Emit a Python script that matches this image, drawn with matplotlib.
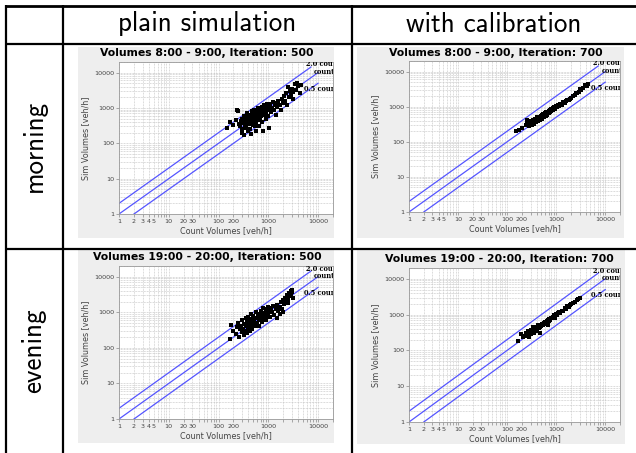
import matplotlib
matplotlib.use('Agg')
import matplotlib.pyplot as plt
from matplotlib.lines import Line2D
from matplotlib.patches import Rectangle
from matplotlib.ticker import FixedLocator, NullFormatter

# ---------------- data ----------------
col_headers = ["plain simulation", "with calibration"]
row_headers = ["morning", "evening"]
titles = ["Volumes 8:00 - 9:00, Iteration: 500",
          "Volumes 8:00 - 9:00, Iteration: 700",
          "Volumes 19:00 - 20:00, Iteration: 500",
          "Volumes 19:00 - 20:00, Iteration: 700"]
x_label = "Count Volumes [veh/h]"
y_label = "Sim Volumes [veh/h]"
x_tick_vals = [1, 2, 3, 4, 5, 10, 20, 30, 100, 200, 1000, 10000]
x_tick_text = ["1", "2", "3", "4", "5", "10", "20", "30", "100", "200", "1000", "10000"]
y_tick_vals = [1, 10, 100, 1000, 10000]
y_tick_text = ["1", "10", "100", "1000", "10000"]
ref_factors = [2.0, 1.0, 0.5]
ref_labels = ["2.0 count", "count", "0.5 count"]
ref_x_start = [1, 1, 2]
ref_x_end = [7200, 10000, 10000]

morning_plain_count = [150,170,200,220,240,250,260,270,280,290,300,300,310,320,330,340,350,360,370,380,
                       390,400,410,420,430,440,450,460,470,480,490,500,510,520,530,540,550,560,570,580,
                       600,610,620,640,650,660,680,700,720,740,750,760,780,800,820,840,860,880,900,920,
                       950,980,1000,1000,1050,1050,1100,1150,1200,1250,1300,1350,1400,1450,1500,1600,1700,1800,1900,2000,
                       2100,2200,2300,2400,2500,2600,2700,2800,3000,3100,3200,3400,3600,3800,4000,4300,4500]
morning_plain_sim = [270,390,330,450,900,800,350,300,420,250,200,500,380,170,600,320,450,280,700,400,
                     230,550,350,480,260,650,400,180,800,500,320,600,420,900,300,700,500,220,380,650,
                     800,450,1000,550,300,700,480,900,600,1100,400,750,220,950,650,1200,800,500,1000,700,
                     1300,850,600,1100,280,900,1300,750,1000,1500,850,1200,1400,650,1100,1600,1200,900,1800,1400,
                     2200,1600,2600,1200,4000,2000,3000,2400,3500,1800,2800,4800,3200,5000,4200,2600,4500]

morning_calib_count = [150,175,200,240,250,260,280,290,300,310,320,330,340,350,360,370,380,390,400,410,
                       420,430,440,450,460,470,480,490,500,510,520,530,540,550,560,580,600,610,620,640,
                       650,660,680,700,720,740,760,780,800,820,850,880,900,930,960,1000,1000,1050,1100,1150,
                       1200,1250,1300,1400,1500,1600,1700,1800,1900,2000,2200,2400,2500,2700,2900,3000,3200,3500,3800,4200,4500]
morning_calib_sim = [200,220,240,300,430,330,280,360,320,400,300,350,420,380,330,460,400,360,440,500,
                     390,460,520,420,480,430,550,470,520,460,580,500,560,620,520,600,650,560,700,620,
                     580,700,650,760,680,800,720,850,760,820,900,780,950,880,1000,950,1050,1000,1150,1050,
                     1200,1150,1100,1350,1300,1450,1600,1500,1700,1800,2000,2200,2400,2500,2700,3200,3000,3400,4200,4000,4300]

evening_plain_count = [170,180,200,220,240,250,260,270,280,290,300,310,320,330,340,350,360,370,380,390,
                       400,410,420,430,440,450,460,470,480,490,500,520,540,560,580,600,620,640,660,680,
                       700,720,740,760,780,800,820,850,880,900,920,950,980,1000,1050,1100,1150,1200,1250,1300,
                       1400,1500,1600,1700,1800,1900,2000,2100,2200,2300,2400,2500,2600,2700,2800,2900,3000,3100,2000,1500,
                       2500,3000,1700]
evening_plain_sim = [180,450,300,250,380,500,200,330,420,280,600,350,230,480,300,700,400,260,550,350,
                     750,450,300,600,380,900,500,330,650,420,800,550,400,700,1000,500,800,600,420,900,
                     700,1100,550,850,1300,650,950,750,1200,600,1000,800,1400,900,1100,750,1300,1000,1500,850,
                     1200,1600,1100,1400,2000,1200,2200,1700,2600,2000,3000,2400,3500,2800,4000,3200,3800,2500,1000,700,
                     1800,4200,900]

evening_calib_count = [170,190,210,230,240,260,270,280,290,300,310,320,330,340,350,360,370,380,390,400,
                       410,420,430,440,450,460,470,480,500,520,540,560,580,600,620,640,660,680,700,730,
                       760,790,820,850,880,920,960,1000,1050,1100,1150,1200,1300,1400,1500,1600,1700,1800,1900,2000,
                       2200,2400,2600,2800,3000,950,680]
evening_calib_sim = [180,290,230,260,300,280,350,240,320,380,290,340,460,330,400,310,420,370,340,460,
                     390,430,500,410,470,440,300,520,480,560,500,600,540,640,580,680,620,720,660,760,
                     720,820,780,880,840,950,900,1050,980,1100,1200,1100,1300,1250,1500,1450,1700,1650,1900,1950,
                     2100,2300,2500,2700,2900,820,520]

panel_counts = [morning_plain_count, morning_calib_count, evening_plain_count, evening_calib_count]
panel_sims = [morning_plain_sim, morning_calib_sim, evening_plain_sim, evening_calib_sim]

# ---------------- layout (pixels) ----------------
W, H = 636, 453
fig = plt.figure(figsize=(W / 100, H / 100), dpi=100)
fig.patch.set_facecolor('white')

def fx(x):
    return x / W

def fy(y):
    return 1 - y / H

def seg(x0, y0, x1, y1, lw=1.6):
    fig.add_artist(Line2D([fx(x0), fx(x1)], [fy(y0), fy(y1)], color='black', lw=lw,
                          transform=fig.transFigure, solid_capstyle='butt'))

# table rules
seg(4.5, 6, W, 6, lw=2.0)
seg(4.5, 43.5, W, 43.5)
seg(4.5, 248.5, W, 248.5)
seg(5.5, 5, 5.5, H)
seg(62.5, 5, 62.5, H)
seg(351.5, 5, 351.5, H)

hdr_font = dict(family='cmss10', size=19.5, color='black')
fig.text(fx(207), fy(24), col_headers[0], ha='center', va='center', **hdr_font)
fig.text(fx(494), fy(24), col_headers[1], ha='center', va='center', **hdr_font)
fig.text(fx(34), fy(146), row_headers[0], ha='center', va='center', rotation=90, **hdr_font)
fig.text(fx(34), fy(351), row_headers[1], ha='center', va='center', rotation=90, **hdr_font)

# panel boxes and plot areas: (box x0, y0, x1, y1), (axes x0, y_top, x1, y_bottom)
boxes = [(78, 47, 334, 238), (357, 47, 624, 238), (78, 250, 334, 443), (357, 250, 625, 444)]
areas = [(119, 62, 333, 214), (409, 61, 620, 212), (119, 266, 333, 419), (409, 268, 620, 422)]
title_pos = [(207, 53), (496, 53), (207, 257), (499, 259)]

for i in range(4):
    bx0, by0, bx1, by1 = boxes[i]
    fig.add_artist(Rectangle((fx(bx0), fy(by1)), fx(bx1 - bx0), (by1 - by0) / H,
                             transform=fig.transFigure, facecolor='#eeeeee', edgecolor='none', zorder=0))
    ax0, ay0, ax1, ay1 = areas[i]
    ax = fig.add_axes([fx(ax0), fy(ay1), fx(ax1 - ax0), (ay1 - ay0) / H])
    ax.set_xscale('log')
    ax.set_yscale('log')
    ax.set_xlim(1, 20000)
    ax.set_ylim(1, 20000)
    ax.set_facecolor('white')

    ax.xaxis.set_major_locator(FixedLocator(x_tick_vals))
    ax.set_xticklabels(x_tick_text)
    ax.yaxis.set_major_locator(FixedLocator(y_tick_vals))
    ax.set_yticklabels(y_tick_text)
    minors = [m * 10 ** d for d in range(5) for m in range(1, 10)]
    ax.xaxis.set_minor_locator(FixedLocator(minors))
    ax.yaxis.set_minor_locator(FixedLocator(minors))
    ax.xaxis.set_minor_formatter(NullFormatter())
    ax.yaxis.set_minor_formatter(NullFormatter())
    ax.grid(True, which='both', color='#c4c4c4', linestyle=(0, (1, 1)), linewidth=0.55)
    ax.set_axisbelow(True)
    ax.tick_params(which='both', direction='out', length=2, width=0.5, color='#888888',
                   labelsize=4.6, labelcolor='#444444', pad=1.5)
    ax.tick_params(axis='y', which='minor', length=0)
    for sp in ax.spines.values():
        sp.set_color('#999999')
        sp.set_linewidth(0.6)

    for f, xs, xe, lab in zip(ref_factors, ref_x_start, ref_x_end, ref_labels):
        ax.plot([xs, xe], [xs * f, xe * f], color='#5555ff', lw=0.9, zorder=2)

    ax.text(5750, 17000, ref_labels[0], ha='left', va='center', fontsize=4.8,
            family='DejaVu Serif', weight='bold', clip_on=True)
    ax.text(8300, 10700, ref_labels[1], ha='left', va='center', fontsize=4.8,
            family='DejaVu Serif', weight='bold', clip_on=True)
    ax.text(5200, 3500, ref_labels[2], ha='left', va='center', fontsize=4.8,
            family='DejaVu Serif', weight='bold', clip_on=True)

    ax.scatter(panel_counts[i], panel_sims[i], marker='s', s=5.0, c='black', linewidths=0, zorder=3)

    ax.set_xlabel(x_label, fontsize=5.8, color='#444444', labelpad=1.5)
    ax.set_ylabel(y_label, fontsize=5.8, color='#444444', labelpad=3)
    tx, ty = title_pos[i]
    fig.text(fx(tx), fy(ty), titles[i], ha='center', va='center', fontsize=7.8, weight='bold')

fig.savefig('out.png', dpi=100, facecolor='white')
